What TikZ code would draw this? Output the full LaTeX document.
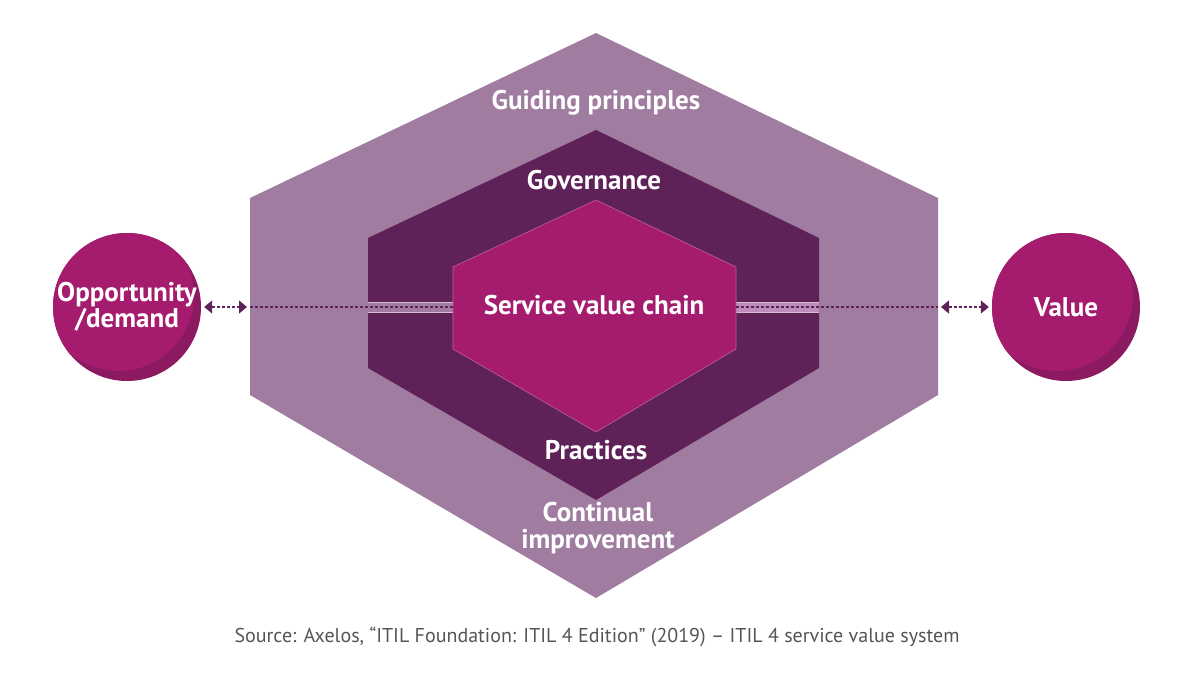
\documentclass[tikz,border=0pt]{standalone}
\usepackage{fontspec}
\setmainfont{PT Sans}
\definecolor{ITILLavender}{RGB}{160, 124, 160}
\definecolor{ITILPlum}{RGB}{94, 33, 88}
\definecolor{ITILMagenta}{RGB}{165, 28, 111}
\definecolor{ITILDeep}{RGB}{140, 26, 96}
\definecolor{ITILStrip}{RGB}{190, 140, 185}
\definecolor{SourceGrey}{RGB}{85, 85, 85}
\usetikzlibrary{arrows.meta, positioning}

\begin{document}
\begin{tikzpicture}[x=1pt, y=-1pt,
		label/.style={text=white, font=\fontsize{27}{24}\selectfont\bfseries, align=center, inner sep=0pt},
		orb/.style={circle, fill=ITILDeep, minimum size=148pt, inner sep=0pt,
			path picture={\fill[ITILMagenta] ([shift={(-9,-12)}]path picture bounding box.center) circle (76pt);}},
		link/.style={draw=ITILPlum, line width=1.4pt, dash pattern=on 3pt off 2pt},
		tip/.style={{Triangle[width=13pt,length=8pt]}-{Triangle[width=13pt,length=8pt]}}]
			\useasboundingbox (0,0) rectangle (1200,675);
			% nested hexagons
			\fill[ITILLavender] (596,33) -- (938,198) -- (938,395) -- (596,598) -- (250,395) -- (250,198) -- cycle;
			\fill[ITILPlum] (596,130) -- (819,238) -- (819,368) -- (596,500) -- (368,368) -- (368,238) -- cycle;
			\fill[ITILLavender] (368,302) rectangle (453,312);
			\fill[ITILStrip] (736,302) rectangle (819,312);
			\draw[ITILStrip!60!white, line width=0.8pt] (368,302) -- (453,302) (368,312) -- (453,312)
				(736,302) -- (819,302) (736,312) -- (819,312);
			\filldraw[fill=ITILMagenta, draw=ITILMagenta!70!white, line width=0.6pt]
				(596,200) -- (736,267) -- (736,349) -- (596,432) -- (453,349) -- (453,267) -- cycle;

			\coordinate (hexW) at (250,307);
			\coordinate (hexE) at (938,307);
			\coordinate (coreW) at (453,307);
			\coordinate (coreE) at (736,307);

			\node[label] (guiding) at (596,103) {Guiding principles};
			\node[label] (governance) at (594,180) {Governance};
			\node[label] (chain) at (594,305) {Service value chain};
			\node[label] (practices) at (596,450) {Practices};
			\node[label, font=\fontsize{27}{27}\selectfont\bfseries] (improvement) at (598,528) {Continual\\improvement};

			\node[orb] (opportunity) at (127,307) {};
			\node[label] (opportunityText) at (opportunity) {Opportunity\\/demand};
			\node[orb] (value) at (1066,307) {};
			\node[label] (valueText) at (value) {Value};

			\draw[link, tip, shorten <=3pt, shorten >=3pt] (opportunity) -- (hexW);
			\draw[link] (hexW) -- (coreW);
			\draw[link] (coreE) -- (hexE);
			\draw[link, tip, shorten <=3pt, shorten >=3pt] (hexE) -- (value);

			\node[text=SourceGrey, font=\fontsize{20}{24}\selectfont] (source) at (597,637)
				{Source: Axelos, “ITIL Foundation: ITIL 4 Edition” (2019) – ITIL 4 service value system};
		\end{tikzpicture}
\end{document}
